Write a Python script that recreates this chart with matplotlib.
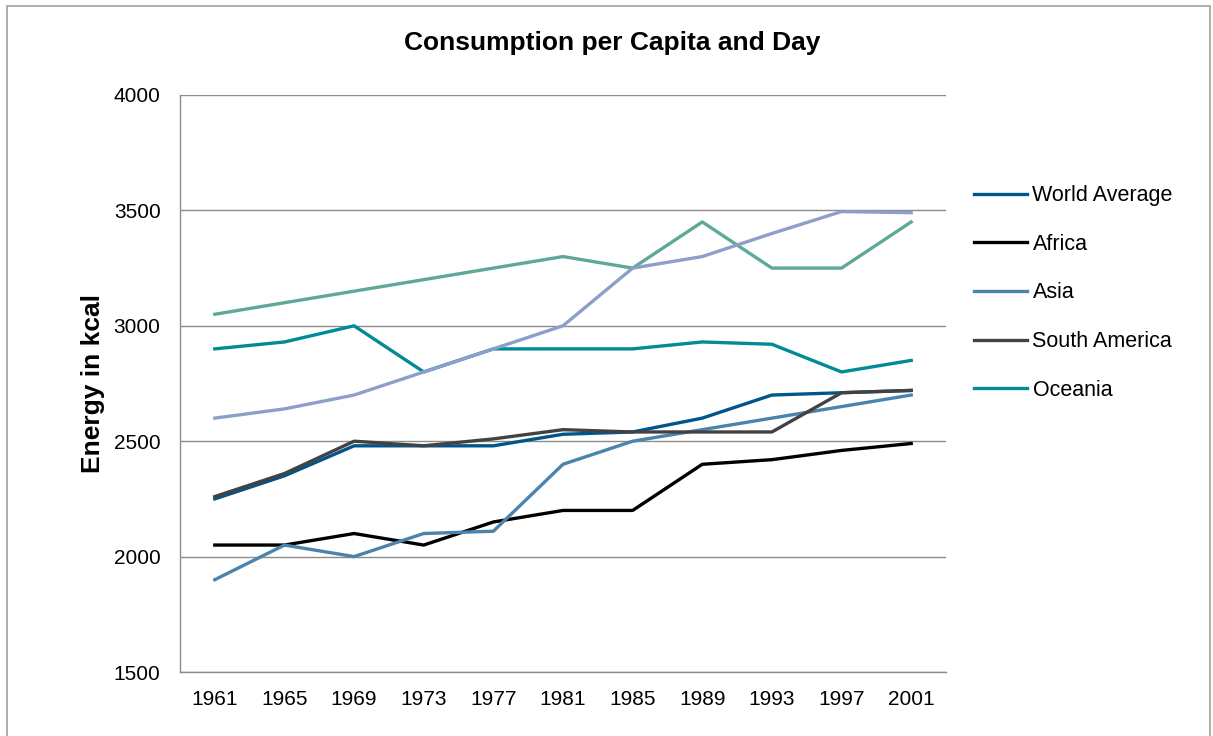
import matplotlib.pyplot as plt
from matplotlib.patches import Rectangle

years = ['1961', '1965', '1969', '1973', '1977', '1981', '1985', '1989', '1993', '1997', '2001']

world_average = [2250, 2350, 2480, 2480, 2480, 2530, 2540, 2600, 2700, 2710, 2720]
africa = [2050, 2050, 2100, 2050, 2150, 2200, 2200, 2400, 2420, 2460, 2490]
asia = [1900, 2050, 2000, 2100, 2110, 2400, 2500, 2550, 2600, 2650, 2700]
south_america = [2260, 2360, 2500, 2480, 2510, 2550, 2540, 2540, 2540, 2710, 2720]
oceania = [2900, 2930, 3000, 2800, 2900, 2900, 2900, 2930, 2920, 2800, 2850]
# two more series are plotted but left out of the legend
north_america = [2600, 2640, 2700, 2800, 2900, 3000, 3250, 3300, 3400, 3495, 3490]
europe = [3050, 3100, 3150, 3200, 3250, 3300, 3250, 3450, 3250, 3250, 3450]

plt.rcParams['font.family'] = ['Liberation Sans', 'DejaVu Sans']

fig = plt.figure(figsize=(12.13, 7.36), dpi=100)
ax = fig.add_axes([180 / 1213, 1 - 672 / 736, 766 / 1213, 577 / 736])

x = list(range(len(years)))
lw = 2.4
h_world, = ax.plot(x, world_average, color='#00568c', lw=lw, label='World Average')
h_africa, = ax.plot(x, africa, color='#000000', lw=lw, label='Africa')
h_asia, = ax.plot(x, asia, color='#4a84ad', lw=lw, label='Asia')
ax.plot(x, europe, color='#5fa899', lw=lw)
h_sa, = ax.plot(x, south_america, color='#424242', lw=lw, label='South America')
h_oc, = ax.plot(x, oceania, color='#008b96', lw=lw, label='Oceania')
ax.plot(x, north_america, color='#8b9fc8', lw=lw)

ax.set_xlim(-0.5, len(years) - 0.5)
ax.set_ylim(1500, 4000)
ax.set_yticks([1500, 2000, 2500, 3000, 3500, 4000])
ax.set_xticks(x)
ax.set_xticklabels(years)
ax.tick_params(length=0, labelsize=15)
ax.tick_params(axis='x', pad=13)
ax.tick_params(axis='y', pad=14)
ax.grid(axis='y', color='#8c8c8c', lw=1)
ax.set_axisbelow(True)
for side in ['top', 'right']:
    ax.spines[side].set_visible(False)
for side in ['left', 'bottom']:
    ax.spines[side].set_color('#8c8c8c')
    ax.spines[side].set_linewidth(1)

ax.set_ylabel('Energy in kcal', fontsize=19, fontweight='bold', labelpad=6)
fig.text(612 / 1213, 1 - 43 / 736, 'Consumption per Capita and Day',
         ha='center', va='center', fontsize=19, fontweight='bold')

fig.legend(handles=[h_world, h_africa, h_asia, h_sa, h_oc],
           loc='upper left', bbox_to_anchor=(955 / 1213, 1 - 166 / 736),
           frameon=False, fontsize=15.5, handlelength=2.45, handletextpad=0.25,
           labelspacing=1.28)

# outer chart border
fig.patches.append(Rectangle((7 / 1213, -0.05), 1203 / 1213, 1.05 - 6 / 736,
                             transform=fig.transFigure, fill=False,
                             edgecolor='#a0a0a0', lw=1.2))

fig.savefig('out.png', dpi=100)
